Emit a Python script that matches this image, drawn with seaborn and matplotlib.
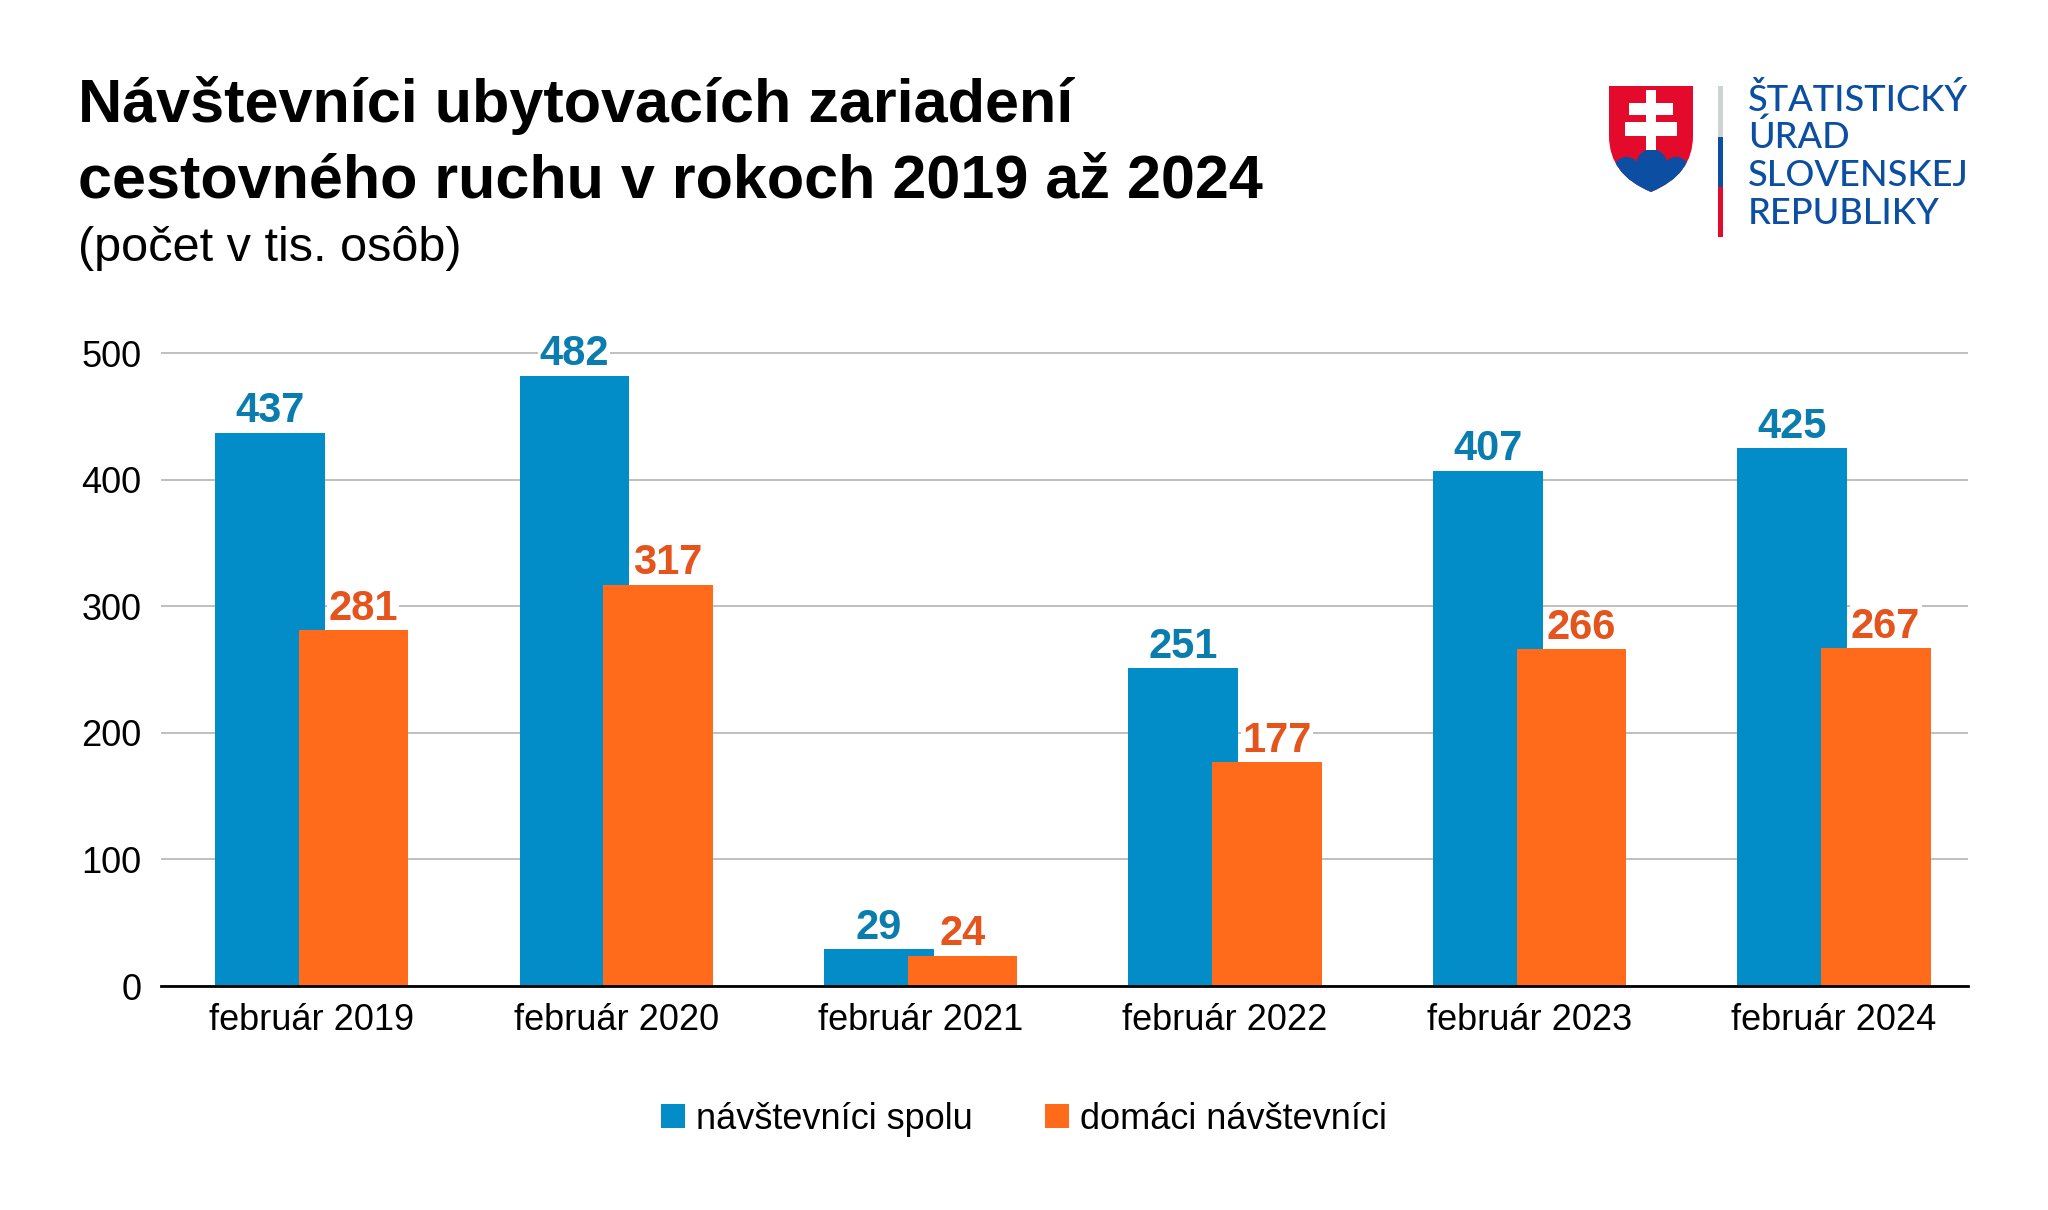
import numpy as np
import pandas as pd
import matplotlib
matplotlib.use("Agg")
import matplotlib.pyplot as plt
from matplotlib.patches import PathPatch, Rectangle, Circle
from matplotlib.path import Path
import seaborn as sns

# data
categories = ["február 2019", "február 2020", "február 2021",
              "február 2022", "február 2023", "február 2024"]
total_visitors = [437, 482, 29, 251, 407, 425]
domestic_visitors = [281, 317, 24, 177, 266, 267]
series_names = ["návštevníci spolu", "domáci návštevníci"]
y_ticks = [0, 100, 200, 300, 400, 500]

BLUE = "#028CC8"
ORANGE = "#FF6B1A"
BLUE_LABEL = "#0A7DAE"
ORANGE_LABEL = "#E4541C"
SUSR_BLUE = "#0B4EA2"
SUSR_RED = "#E30A2C"

W, H = 2048, 1210

df = pd.DataFrame({
    "obdobie": categories * 2,
    "pocet": total_visitors + domestic_visitors,
    "rad": [series_names[0]] * len(categories) + [series_names[1]] * len(categories),
})

sns.set_theme(style="white")
plt.rcParams["font.family"] = ["Liberation Sans", "DejaVu Sans"]
plt.rcParams["text.color"] = "black"

fig = plt.figure(figsize=(W / 100, H / 100), dpi=100)
ax = fig.add_axes([161 / W, 1 - 986 / H, (1968 - 161) / W, (986 - 346.7) / H])

sns.barplot(data=df, x="obdobie", y="pocet", hue="rad", palette=[BLUE, ORANGE],
            width=0.55, saturation=1, linewidth=0, ax=ax, legend=True)

# bars overlap a little in the original: widen each around its own centre
for cont in ax.containers:
    for bar in cont:
        c = bar.get_x() + bar.get_width() / 2
        bar.set_width(0.36)
        bar.set_x(c - 0.18)

halo = dict(facecolor="white", edgecolor="none", pad=1)
ax.bar_label(ax.containers[0], labels=[str(v) for v in total_visitors], padding=1,
             color=BLUE_LABEL, fontsize=30, fontweight="bold", bbox=halo)
orange_texts = ax.bar_label(ax.containers[1], labels=[str(v) for v in domestic_visitors],
                            padding=1, color=ORANGE_LABEL, fontsize=30,
                            fontweight="bold", bbox=halo)
# labels that would run into the taller blue bar are nudged to the right
for t, tot, dom in zip(orange_texts, total_visitors, domestic_visitors):
    if tot > dom + 30:
        t.xyann = (7, t.xyann[1])

ax.set_xlim(-0.495, 5.44)
ax.set_ylim(0, 505)
ax.set_yticks(y_ticks)
ax.set_xlabel("")
ax.set_ylabel("")
ax.yaxis.grid(True, color="#B4B4B4", linewidth=1.2)
ax.set_axisbelow(True)
for s in ["left", "right", "top"]:
    ax.spines[s].set_visible(False)
ax.spines["bottom"].set_color("black")
ax.spines["bottom"].set_linewidth(2)
ax.tick_params(axis="y", length=0, pad=14, labelsize=26, labelcolor="black")
ax.tick_params(axis="x", length=0, pad=12, labelsize=26, labelcolor="black")

sns.move_legend(ax, "center", bbox_to_anchor=(0.5, 0.075), bbox_transform=fig.transFigure,
                ncol=2, frameon=False, title=None, fontsize=26,
                handlelength=0.67, handleheight=0.67, handletextpad=0.3,
                columnspacing=2.0, labelcolor="black")

# title
fig.text(78 / W, 1 - 122 / H, "Návštevníci ubytovacích zariadení", fontsize=44,
         fontweight="bold", va="baseline", ha="left", color="black")
fig.text(78 / W, 1 - 197 / H, "cestovného ruchu v rokoch 2019 až 2024", fontsize=44,
         fontweight="bold", va="baseline", ha="left", color="black")
fig.text(78 / W, 1 - 261 / H, "(počet v tis. osôb)", fontsize=35,
         va="baseline", ha="left", color="black")

# logo: shield
lax = fig.add_axes([1609 / W, 1 - 192 / H, 84 / W, 106 / H])
lax.set_xlim(0, 250)
lax.set_ylim(317, 0)
lax.axis("off")
shield_path = Path(
    [(0, 0), (250, 0), (250, 150), (250, 265), (125, 317), (0, 265), (0, 150), (0, 0)],
    [Path.MOVETO, Path.LINETO, Path.LINETO, Path.CURVE3, Path.CURVE3,
     Path.CURVE3, Path.CURVE3, Path.CLOSEPOLY])
shield = PathPatch(shield_path, facecolor=SUSR_RED, edgecolor="none")
lax.add_patch(shield)
hills = [Circle((127, 235), 46), Circle((52, 250), 38), Circle((200, 250), 38),
         Rectangle((0, 248), 250, 80)]
for h in hills:
    h.set_facecolor(SUSR_BLUE)
    h.set_edgecolor("none")
    lax.add_patch(h)
    h.set_clip_path(shield)
for (x, y, w, h) in [(109, 12, 32, 180), (60, 50, 130, 36), (47, 107, 156, 42)]:
    lax.add_patch(Rectangle((x, y), w, h, facecolor="white", edgecolor="none"))

# logo: tricolour rule
for y0, y1, col in [(86, 137, "#D0D3D4"), (137, 187, SUSR_BLUE), (187, 237, SUSR_RED)]:
    fig.add_artist(Rectangle((1718 / W, 1 - y1 / H), 5 / W, (y1 - y0) / H,
                             transform=fig.transFigure, facecolor=col, edgecolor="none"))

# logo: text
for txt, base in zip(["ŠTATISTICKÝ", "ÚRAD", "SLOVENSKEJ", "REPUBLIKY"],
                     [111, 148, 186, 224]):
    fig.text(1748 / W, 1 - base / H, txt, fontsize=26, color=SUSR_BLUE,
             family=["Lato", "DejaVu Sans"], fontweight="medium",
             va="baseline", ha="left")

fig.savefig("out.png", dpi=100, facecolor="white")
